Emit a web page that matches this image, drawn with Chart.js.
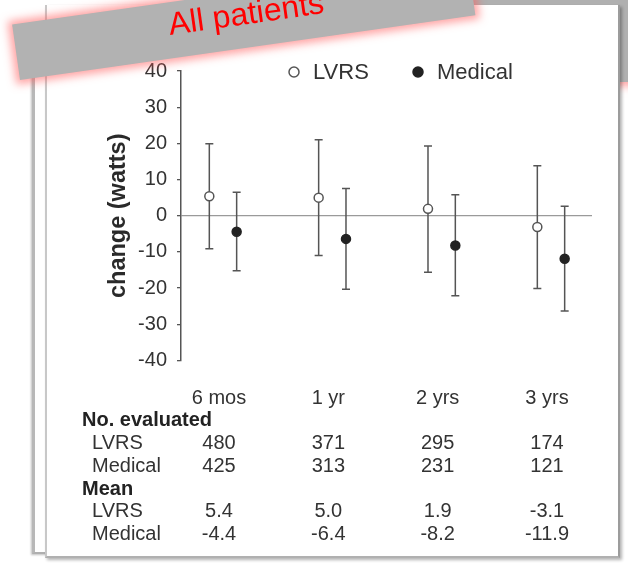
<!DOCTYPE html>
<html>
<head>
<meta charset="utf-8">
<script src="https://cdn.jsdelivr.net/npm/chart.js@4.4.1/dist/chart.umd.min.js"></script>
<style>
  html, body { margin: 0; padding: 0; background: #fff; }
  body { width: 628px; height: 564px; position: relative; overflow: hidden;
         font-family: "Liberation Sans", Arial, sans-serif; }
  .banner-back { position: absolute; left: 440px; top: -40px; width: 260px; height: 122px;
                 background: #b0b0b0; box-shadow: 0 0 8px 4px rgba(255, 90, 90, 0.55); }
  .sheet-back { position: absolute; left: 32px; top: 34px; width: 560px; height: 518px;
                background: #fff; border-left: 3px solid #b8b8b8; border-bottom: 2px solid #b0b0b0;
                box-shadow: -1px 1px 2px rgba(0, 0, 0, 0.25); }
  .sheet { position: absolute; left: 45px; top: 5px; width: 571px; height: 551px; background: #fff;
           border-left: 2px solid #c8c8c8; border-right: 2px solid #9c9c9c; border-bottom: 2px solid #b0b0b0;
           box-shadow: 2px 2px 3px rgba(0, 0, 0, 0.3); }
  #chart { position: absolute; left: 0; top: 0; }
  .banner { position: absolute; left: 20px; top: 24px; width: 460px; height: 56px; background: #b2b2b2;
            transform-origin: 0 100%; transform: rotate(-8.1deg);
            box-shadow: 0 0 8px 4px rgba(255, 90, 90, 0.55); }
  .banner-title { position: absolute; left: 146px; top: -5px; width: 200px; text-align: center;
                  font-size: 32px; line-height: 36px; color: #ff0000; transform: rotate(-8.1deg); white-space: nowrap; }
</style>
</head>
<body>
<div class="banner-back"></div>
<div class="sheet-back"></div>
<div class="sheet"></div>
<canvas id="chart" width="628" height="564"></canvas>
<div class="banner"></div>
<div class="banner-title">All patients</div>

<script>
// Follow-up time points
const categories = ['6 mos', '1 yr', '2 yrs', '3 yrs'];

// Mean change in maximum workload (watts)
const lvrsMean = [5.4, 5.0, 1.9, -3.1];
const medicalMean = [-4.4, -6.4, -8.2, -11.9];

// Ends of the error bars (watts)
const lvrsUpper = [19.9, 21.0, 19.3, 13.8];
const lvrsLower = [-9.1, -11.0, -15.6, -20.1];
const medicalUpper = [6.5, 7.5, 5.8, 2.6];
const medicalLower = [-15.2, -20.3, -22.1, -26.3];

// Patients evaluated at each time point
const lvrsCount = [480, 371, 295, 174];
const medicalCount = [425, 313, 231, 121];

// Y axis range and step
const yMin = -40, yMax = 40, yStep = 10;

const FONT = '"Liberation Sans", Arial, sans-serif';
const TEXT = '#333';
const LINE = '#555';
const GROUP_SHIFT = 0.125;

function points(means, upper, lower, shift) {
  return means.map((m, i) => ({ x: i + 1 + shift, y: m, hi: upper[i], lo: lower[i] }));
}

// Vertical bars with caps behind each marker
const errorBars = {
  id: 'errorBars',
  beforeDatasetsDraw(chart) {
    const { ctx, scales: { x, y } } = chart;
    ctx.save();
    ctx.strokeStyle = LINE;
    ctx.lineWidth = 1.5;
    chart.data.datasets.forEach(ds => {
      ds.data.forEach(p => {
        const px = x.getPixelForValue(p.x);
        const top = y.getPixelForValue(p.hi);
        const bot = y.getPixelForValue(p.lo);
        ctx.beginPath();
        ctx.moveTo(px, top); ctx.lineTo(px, bot);
        ctx.moveTo(px - 4, top); ctx.lineTo(px + 4, top);
        ctx.moveTo(px - 4, bot); ctx.lineTo(px + 4, bot);
        ctx.stroke();
      });
    });
    ctx.restore();
  }
};

// Legend row across the top of the plot
const markerLegend = {
  id: 'markerLegend',
  afterDraw(chart) {
    const { ctx } = chart;
    const spots = [{ cx: 294, tx: 313 }, { cx: 418, tx: 437 }];
    const cy = 72;
    ctx.save();
    ctx.font = '22px ' + FONT;
    ctx.textBaseline = 'middle';
    ctx.textAlign = 'left';
    chart.data.datasets.forEach((ds, i) => {
      const s = spots[i];
      ctx.beginPath();
      ctx.arc(s.cx, cy, 5, 0, Math.PI * 2);
      ctx.fillStyle = ds.backgroundColor;
      ctx.fill();
      ctx.lineWidth = 1.5;
      ctx.strokeStyle = ds.borderColor;
      ctx.stroke();
      ctx.fillStyle = TEXT;
      ctx.fillText(ds.label, s.tx, cy + 1);
    });
    ctx.restore();
  }
};

// Table of counts and means under the plot
const summaryTable = {
  id: 'summaryTable',
  afterDraw(chart) {
    const { ctx, scales: { x } } = chart;
    const col = i => x.getPixelForValue(i + 1) - 4;
    const rowY = [398, 420.5, 443.5, 466, 489, 511.5, 534];
    ctx.save();
    ctx.textBaseline = 'middle';
    ctx.fillStyle = TEXT;
    ctx.font = '20px ' + FONT;
    ctx.textAlign = 'center';
    categories.forEach((c, i) => ctx.fillText(c, col(i), rowY[0]));

    ctx.textAlign = 'left';
    ctx.fillStyle = '#222';
    ctx.font = 'bold 20px ' + FONT;
    ctx.fillText('No. evaluated', 82, rowY[1]);
    ctx.fillText('Mean', 82, rowY[4]);

    ctx.fillStyle = TEXT;
    ctx.font = '20px ' + FONT;
    const rows = [
      [2, 'LVRS', lvrsCount.map(String)],
      [3, 'Medical', medicalCount.map(String)],
      [5, 'LVRS', lvrsMean.map(v => v.toFixed(1))],
      [6, 'Medical', medicalMean.map(v => v.toFixed(1))]
    ];
    rows.forEach(([r, name, vals]) => {
      ctx.textAlign = 'left';
      ctx.fillText(name, 92, rowY[r]);
      ctx.textAlign = 'center';
      vals.forEach((v, i) => ctx.fillText(v, col(i), rowY[r]));
    });
    ctx.restore();
  }
};

new Chart(document.getElementById('chart'), {
  type: 'scatter',
  data: {
    datasets: [
      {
        label: 'LVRS',
        data: points(lvrsMean, lvrsUpper, lvrsLower, -GROUP_SHIFT),
        pointRadius: 4.5,
        pointBorderWidth: 1.5,
        backgroundColor: '#ffffff',
        borderColor: LINE
      },
      {
        label: 'Medical',
        data: points(medicalMean, medicalUpper, medicalLower, GROUP_SHIFT),
        pointRadius: 4.5,
        pointBorderWidth: 1.5,
        backgroundColor: '#222222',
        borderColor: '#222222'
      }
    ]
  },
  options: {
    responsive: false,
    animation: false,
    devicePixelRatio: 1,
    layout: { padding: { left: 100, right: 36, top: 71, bottom: 203.5 } },
    plugins: { legend: { display: false }, tooltip: { enabled: false } },
    scales: {
      x: { type: 'linear', display: false, min: 0.616, max: 4.375 },
      y: {
        min: yMin, max: yMax,
        ticks: { stepSize: yStep, color: TEXT, padding: 10, font: { size: 20, family: FONT } },
        grid: {
          color: c => (c.tick && c.tick.value === 0 ? '#9a9a9a' : 'rgba(0,0,0,0)'),
          tickColor: LINE,
          tickLength: 4,
          lineWidth: 1.3
        },
        border: { display: true, color: LINE, width: 1.5 },
        title: {
          display: true, text: 'change (watts)', color: '#2a2a2a',
          font: { size: 23.5, weight: 'bold', family: FONT },
          padding: { top: 4, bottom: 0 }
        },
        afterFit(scale) { scale.width = 81; }
      }
    }
  },
  plugins: [errorBars, markerLegend, summaryTable]
});
</script>
</body>
</html>
